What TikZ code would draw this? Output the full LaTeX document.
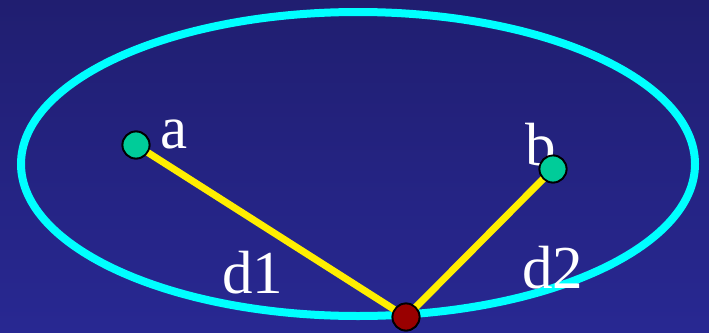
\documentclass[tikz,border=0pt]{standalone}
\usepackage{fontspec}
\setmainfont{Liberation Serif}
\definecolor{bgtop}{HTML}{201E70}
\definecolor{bgbot}{HTML}{282892}
\definecolor{ringcol}{HTML}{00FFFF}
\definecolor{linecol}{HTML}{FFEE00}
\definecolor{ptgreen}{HTML}{00CC99}
\definecolor{ptred}{HTML}{990000}
\begin{document}
\begin{tikzpicture}[x=1pt,y=-1pt,
  pt/.style={circle,draw=black,line width=1.8pt,minimum size=27pt,inner sep=0pt},
  lbl/.style={text=white,font=\fontsize{61}{61}\selectfont,inner sep=0pt,anchor=base west},
  seg/.style={linecol,line width=7pt}]
  \shade[top color=bgtop,bottom color=bgbot] (0,0) rectangle (709,332);
  \useasboundingbox (0,0) rectangle (709,332);
  \draw[ringcol,line width=8pt] (358,164) ellipse [x radius=337,y radius=152];
  \node[pt,fill=ptgreen] (a) at (136,145) {};
  \node[pt,fill=ptgreen] (b) at (553,169) {};
  \node[pt,fill=ptred] (c) at (406,317) {};
  \draw[seg] (a.center) -- (c.center);
  \draw[seg] (b.center) -- (c.center);
  \node[pt,fill=ptgreen] (a2) at (136,145) {};
  \node[pt,fill=ptred] (c2) at (406,317) {};
  \node[lbl] (la) at (160,148) {a};
  \node[lbl] (lb) at (525,165) {b};
  \node[pt,fill=ptgreen] (b2) at (553,169) {};
  \node[lbl] (ld1) at (222,293) {d1};
  \node[lbl] (ld2) at (522,288) {d2};
\end{tikzpicture}
\end{document}
